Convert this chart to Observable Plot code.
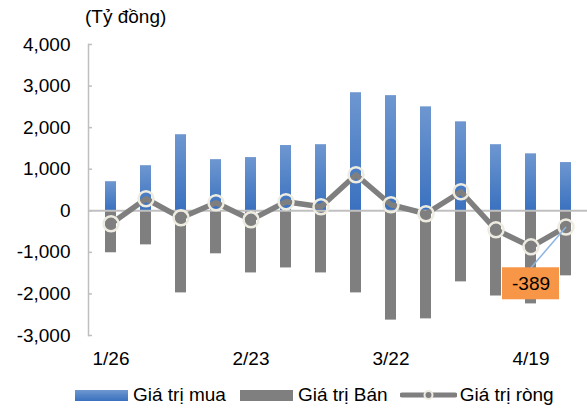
<!DOCTYPE html>
<html><head><meta charset="utf-8">
<script src="https://cdn.jsdelivr.net/npm/d3@7"></script>
<script src="https://cdn.jsdelivr.net/npm/@observablehq/plot@0.6"></script>
<style>
body{margin:0;background:#fff;font-family:"Liberation Sans",Arial,sans-serif;color:#000;}
#wrap{width:587px;height:410px;position:relative;overflow:hidden;}
#title{height:34px;line-height:34px;font-size:19px;padding-left:85px;box-sizing:border-box;}
#legend{display:flex;align-items:center;height:30px;font-size:19px;padding-left:75px;box-sizing:border-box;}
#legend .sw{display:inline-block;width:53px;height:11px;margin-right:5px;}
#chart svg{display:block;}
</style></head><body>
<div id="wrap">
<div id="title">(Tỷ đồng)</div>
<div id="chart"></div>
<div id="legend">
  <span class="sw" style="background:linear-gradient(#6e97d0,#3a71bf)"></span><span>Giá trị mua</span>
  <span class="sw" style="background:#7f7f7f;margin-left:14px"></span><span>Giá trị Bán</span>
  <svg width="57" height="12" style="margin-left:12px;margin-right:3px"><line x1="2" y1="6" x2="55" y2="6" stroke="#7f7f7f" stroke-width="5" stroke-linecap="round"/><circle cx="28.5" cy="6" r="4" fill="#7f7f7f" stroke="#eeece1" stroke-width="2"/></svg><span>Giá trị ròng</span>
</div>
</div>
<script>
const weeks = ["1/26","2/2","2/9","2/16","2/23","3/1","3/8","3/15","3/22","3/29","4/5","4/12","4/19","4/26"];
const buy  = [700, 1085, 1830, 1230, 1280, 1570, 1590, 2840, 2770, 2500, 2140, 1590, 1370, 1160];
const sell = [-1010, -820, -1975, -1035, -1495, -1375, -1495, -1975, -2630, -2600, -1710, -2050, -2240, -1565];
const net  = [-313, 289, -169, 193, -217, 217, 96, 867, 145, -72, 458, -458, -867, -389];
const xTicks = ["1/26","2/23","3/22","4/19"];
const yTicks = [-3000,-2000,-1000,0,1000,2000,3000,4000];
const noteLabel = ["-389"];

const data = weeks.map((w,i)=>({week:w, buy:buy[i], sell:sell[i], net:net[i]}));
const note = [{week:"4/19", y1:-1371, y2:-2141, ty:-1756, label:noteLabel[0], tx:"4/26", tyEnd:net[net.length-1]}];

const plot = Plot.plot({
  width:587, height:346, marginTop:10, marginBottom:45, marginLeft:88, marginRight:0,
  style:{fontFamily:"'Liberation Sans', Arial, sans-serif", fontSize:"19px", color:"#000", background:"#fff", overflow:"visible"},
  x:{domain:weeks, paddingInner:0.7, paddingOuter:0.35, label:null},
  y:{domain:[-3000,4000], label:null},
  marks:[
    Plot.barY(data,{x:"week", y:"buy", fill:"url(#buyGrad)"}),
    Plot.barY(data,{x:"week", y:"sell", fill:"#7f7f7f"}),
    Plot.ruleY([0],{stroke:"#c0c0c0", strokeWidth:2}),
    Plot.frame({anchor:"left", stroke:"#bfbfbf", strokeWidth:1.5}),
    Plot.axisY({ticks:yTicks, tickSize:0, tickPadding:18, tickFormat:d=>d.toLocaleString("en-US"), label:null, fill:"#000"}),
    Plot.axisY({ticks:yTicks, tickSize:-4, text:null, stroke:"#bfbfbf", strokeWidth:1.5, label:null}),
    Plot.axisX({ticks:xTicks, tickSize:0, tickPadding:16, label:null, fill:"#000"}),
    Plot.line(data,{x:"week", y:"net", stroke:"#7f7f7f", strokeWidth:5.5}),
    Plot.dot(data,{x:"week", y:"net", r:7.5, stroke:"#eeece1", strokeWidth:2.5, fill:"none"}),
    Plot.barY(note,{x:"week", y1:"y1", y2:"y2", fill:"#f79646", insetLeft:-23, insetRight:-23}),
    Plot.text(note,{x:"week", y:"ty", text:"label", fill:"#000", fontSize:19}),
    Plot.link(note,{x1:"week", y1:"y1", x2:"tx", y2:"tyEnd", stroke:"#8db4e2", strokeWidth:1.5})
  ]
});
const defs = d3.select(plot).insert("defs", ":first-child");
const g = defs.append("linearGradient").attr("id","buyGrad").attr("x1",0).attr("y1",0).attr("x2",0).attr("y2",1);
g.append("stop").attr("offset","0%").attr("stop-color","#6e97d0");
g.append("stop").attr("offset","100%").attr("stop-color","#3a71bf");
document.getElementById("chart").appendChild(plot);
</script>
</body></html>
